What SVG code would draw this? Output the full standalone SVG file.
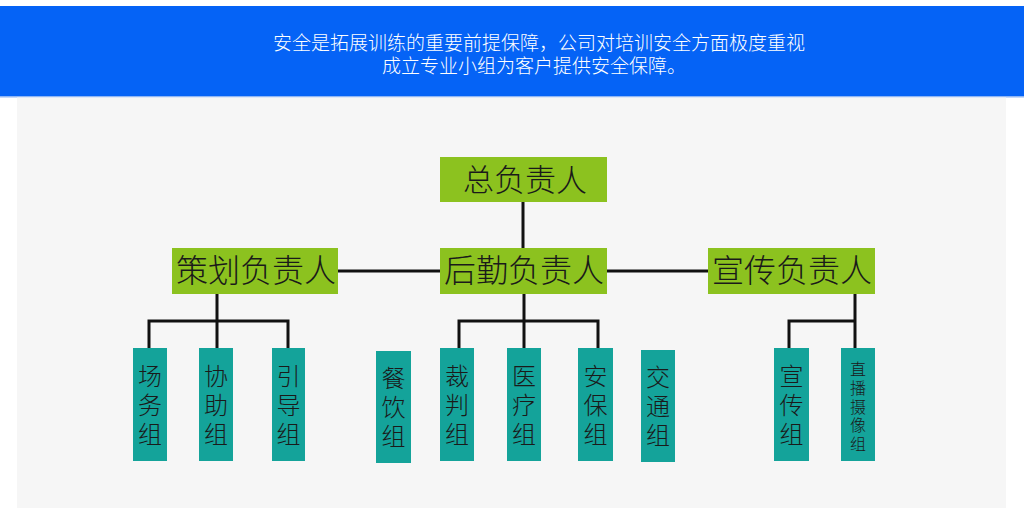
<svg xmlns="http://www.w3.org/2000/svg" width="1024" height="508" viewBox="0 0 1024 508">
<defs>
<style>
.hdr{font-family:"Liberation Sans","Noto Sans CJK SC",sans-serif;font-size:19px;fill:#ffffff;text-anchor:middle;font-weight:300}
.g{fill:#8cc21f}
.t{fill:#14a39a}
.lbl{font-family:"Noto Sans CJK SC","Noto Sans",sans-serif;font-weight:300;fill:#1a1a1a;text-anchor:middle}
.big{font-size:32px}
.top{font-size:31px}
.v{writing-mode:vertical-rl;font-size:24px;letter-spacing:5px}
.vs{writing-mode:vertical-rl;font-size:16px;letter-spacing:2.75px}
.ln{stroke:#111111;stroke-width:3;fill:none}
</style>
</defs>
<rect x="0" y="0" width="1024" height="508" fill="#ffffff"/>
<rect x="0" y="6" width="1024" height="90" fill="#0563f6"/>
<rect x="0" y="96" width="1024" height="1.5" fill="#8fb6f5"/>
<rect x="17" y="97.5" width="989" height="410.5" fill="#f6f6f6"/>
<text class="hdr" x="539" y="50">安全是拓展训练的重要前提保障，公司对培训安全方面极度重视</text>
<text class="hdr" x="534" y="73">成立专业小组为客户提供安全保障。</text>

<g id="connectors">
<path class="ln" d="M523 202V248"/>
<path class="ln" d="M338 271H440"/>
<path class="ln" d="M607 271H708"/>
<path class="ln" d="M217 294V348 M149 348V321H288V348"/>
<path class="ln" d="M524 294V348 M459 348V321H598V348"/>
<path class="ln" d="M855 294V348 M789 348V321H855"/>
</g>

<g id="n-zong"><rect class="g" x="440" y="157" width="167" height="45"/><text class="lbl top" x="525" y="191">总负责人</text></g>
<g id="n-cehua"><rect class="g" x="172" y="248" width="166" height="46"/><text class="lbl big" x="256" y="282">策划负责人</text></g>
<g id="n-houqin"><rect class="g" x="440" y="248" width="167" height="46"/><text class="lbl big" x="524" y="282">后勤负责人</text></g>
<g id="n-xuanchuan"><rect class="g" x="708" y="248" width="167" height="46"/><text class="lbl big" x="792" y="282">宣传负责人</text></g>

<g id="n-changwu"><rect class="t" x="133" y="348" width="34" height="113"/><text class="lbl v" x="150" y="407">场务组</text></g>
<g id="n-xiezhu"><rect class="t" x="199" y="348" width="34" height="113"/><text class="lbl v" x="216" y="407">协助组</text></g>
<g id="n-yindao"><rect class="t" x="272" y="348" width="33" height="113"/><text class="lbl v" x="288.5" y="407">引导组</text></g>
<g id="n-canyin"><rect class="t" x="376" y="351" width="35" height="112"/><text class="lbl v" x="393.5" y="409">餐饮组</text></g>
<g id="n-caipan"><rect class="t" x="440" y="348" width="34" height="113"/><text class="lbl v" x="457" y="407">裁判组</text></g>
<g id="n-yiliao"><rect class="t" x="507" y="348" width="34" height="113"/><text class="lbl v" x="524" y="407">医疗组</text></g>
<g id="n-anbao"><rect class="t" x="578" y="348" width="35" height="113"/><text class="lbl v" x="595.5" y="407">安保组</text></g>
<g id="n-jiaotong"><rect class="t" x="641" y="350" width="34" height="112"/><text class="lbl v" x="658" y="408">交通组</text></g>
<g id="n-xuanchuanzu"><rect class="t" x="774" y="348" width="35" height="113"/><text class="lbl v" x="791.5" y="407">宣传组</text></g>
<g id="n-zhibo"><rect class="t" x="841" y="348" width="34" height="113"/><text class="lbl vs" x="858" y="408">直播摄像组</text></g>
</svg>
